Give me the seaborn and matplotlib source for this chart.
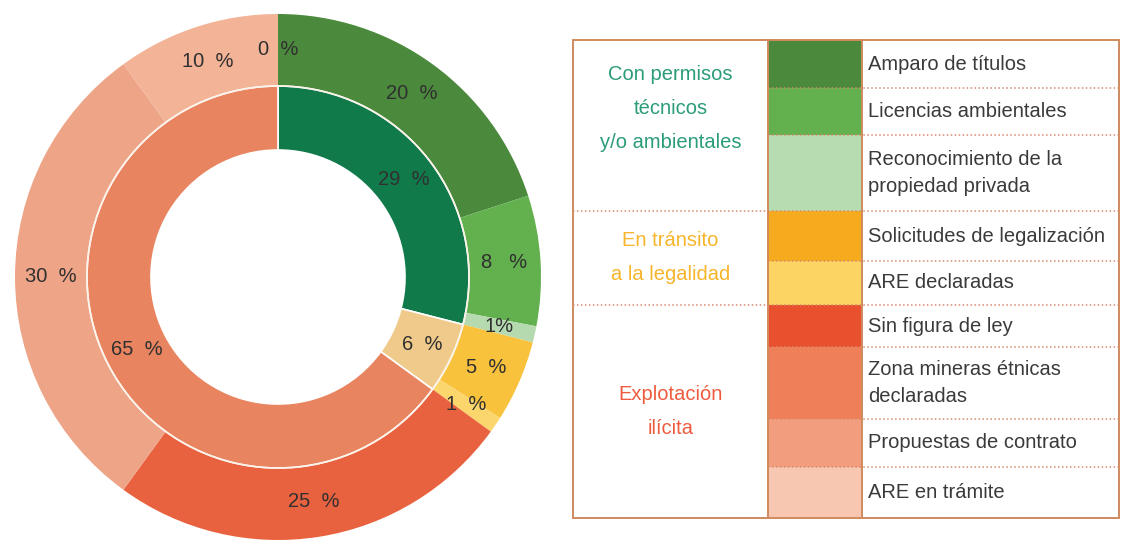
"""
Gráfico de anillos: situación legal de la minería
"""
import matplotlib
matplotlib.use("Agg")
import matplotlib.pyplot as plt
from matplotlib.patches import Rectangle
import numpy as np
import seaborn as sns

# anillo exterior (orden horario desde arriba)
outer_values = [20, 8, 1, 5, 1, 25, 30, 10, 0]
outer_text = ["20  %", "8   %", "1%", "5  %", "1  %", "25  %", "30  %", "10  %", "0  %"]
outer_colors = ["#4b8a3c", "#63b04f", "#b5dab0", "#f8c23c", "#fad66c",
                "#e9623f", "#eea487", "#f3b397", "#ef7f58"]

# anillo interior
inner_values = [29, 6, 65]
inner_text = ["29  %", "6  %", "65  %"]
inner_colors = ["#107a4b", "#efca8b", "#e8845f"]

# tabla de leyenda
legend_items = ["Amparo de títulos", "Licencias ambientales",
                "Reconocimiento de la\npropiedad privada",
                "Solicitudes de legalización", "ARE declaradas",
                "Sin figura de ley", "Zona mineras étnicas\ndeclaradas",
                "Propuestas de contrato", "ARE en trámite"]
legend_colors = ["#4b8a3c", "#63b04f", "#b8dcb2", "#f6aa1d", "#fbd463",
                 "#e9502e", "#ef7f58", "#f29d7e", "#f8c7b2"]
legend_groups = ["Con permisos\ntécnicos\ny/o ambientales",
                 "En tránsito\na la legalidad", "Explotación\nilícita"]
group_colors = ["#2a9c7a", "#f7b52b", "#ef5b3f"]
group_sizes = [3, 2, 4]

sns.set_theme(style="white")
plt.rcParams['font.family'] = ['Liberation Sans', 'DejaVu Sans']

W, H = 1122, 541
fig = plt.figure(figsize=(W / 100, H / 100), dpi=100)

# --- anillos ---
cx, cy, R = 278, 277, 263
ax = fig.add_axes([(cx - R) / W, (H - cy - R) / H, 2 * R / W, 2 * R / H])
r_mid = 191 / R
r_in = 127 / R

wedges_out, _ = ax.pie(outer_values, radius=1, colors=outer_colors,
                       startangle=90, counterclock=False,
                       wedgeprops=dict(width=1 - r_mid, edgecolor="none"))
wedges_in, _ = ax.pie(inner_values, radius=r_mid, colors=inner_colors,
                      startangle=90, counterclock=False,
                      wedgeprops=dict(width=r_mid - r_in, edgecolor="white", linewidth=1.2))
ax.add_patch(plt.Circle((0, 0), r_mid, fill=False, edgecolor="#fbf3ea", linewidth=1.2))
ax.set_xlim(-1, 1)
ax.set_ylim(-1, 1)
ax.set_aspect("equal")

# etiquetas en el centro de cada sector
for wedges, texts in [(wedges_out, outer_text), (wedges_in, inner_text)]:
    for w, t in zip(wedges, texts):
        ang = np.deg2rad((w.theta1 + w.theta2) / 2)
        r = w.r - w.width / 2
        ax.text(r * np.cos(ang), r * np.sin(ang), t, ha="center", va="center",
                fontsize=14.5, color="#303030")

# --- tabla ---
tx = fig.add_axes([0, 0, 1, 1])
tx.set_xlim(0, W)
tx.set_ylim(H, 0)
tx.axis("off")

rows = [40, 88, 135, 211, 261, 305, 347, 419, 467, 518]
x0, x1, x2, x3 = 573, 768, 862, 1119
border = "#d08a5e"
dotted = "#d98a6c"

for i, (lab, col) in enumerate(zip(legend_items, legend_colors)):
    top, bot = rows[i], rows[i + 1]
    tx.add_patch(Rectangle((x1, top), x2 - x1, bot - top, facecolor=col, edgecolor="none"))
    tx.text(x2 + 6, (top + bot) / 2, lab, ha="left", va="center", fontsize=14.5,
            color="#3a3a3a", linespacing=1.55)
    if i > 0:
        tx.plot([x1, x3], [top, top], color=dotted, lw=1.1, ls=(0, (1, 1.6)))

k = 0
for g, (grp, gcol, n) in enumerate(zip(legend_groups, group_colors, group_sizes)):
    top, bot = rows[k], rows[k + n]
    yc = (top + bot) / 2 if g > 0 else 108
    tx.text((x0 + x1) / 2, yc, grp, ha="center", va="center", fontsize=14.5,
            color=gcol, linespacing=2.0)
    if g > 0:
        tx.plot([x0, x1], [top, top], color=dotted, lw=1.1, ls=(0, (1, 1.6)))
    k += n

tx.add_patch(Rectangle((x0, rows[0]), x3 - x0, rows[-1] - rows[0], fill=False,
                       edgecolor=border, linewidth=1.4))
tx.plot([x1, x1], [rows[0], rows[-1]], color=border, lw=1.4)
tx.plot([x2, x2], [rows[0], rows[-1]], color=border, lw=1.4)

fig.savefig("out.png", dpi=100)
